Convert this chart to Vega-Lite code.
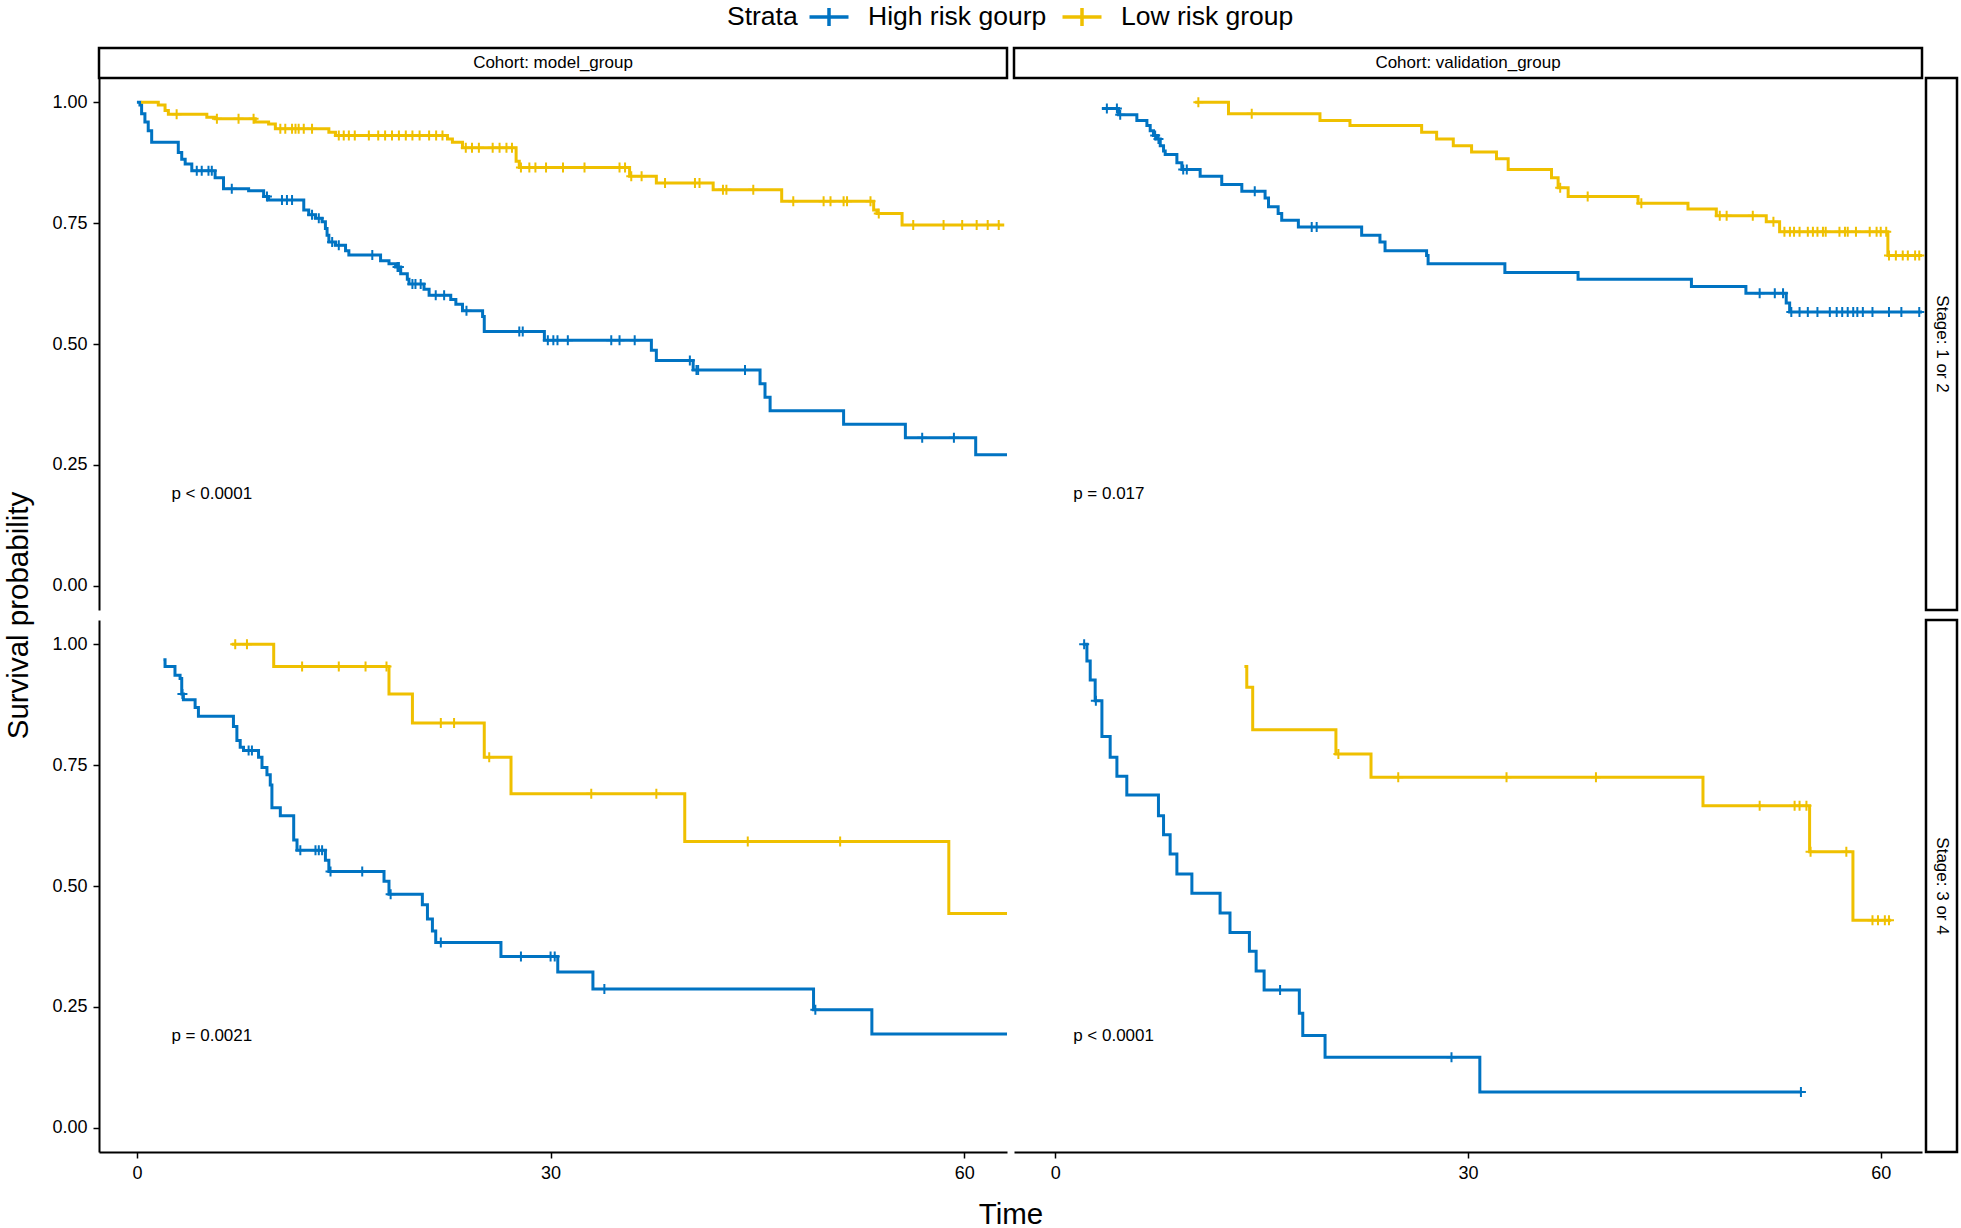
{
"$schema": "https://vega.github.io/schema/vega-lite/v6.json",
"background": "white",
"padding": {"left": 3, "top": 0, "right": 5, "bottom": 5},
"config": {
  "font": "Liberation Sans",
  "view": {"stroke": null},
  "axis": {"domainColor": "black", "domainWidth": 2, "tickColor": "black", "tickWidth": 1.5, "tickSize": 6, "labelColor": "black", "labelFontSize": 18, "labelPadding": 6, "titleColor": "black", "titleFontSize": 29.5, "titleFontWeight": "normal", "grid": false}
},
"datasets": {
  "tl_s": [
    {"strata":"High risk gourp","time":0,"surv":1},{"strata":"High risk gourp","time":0.22,"surv":0.994},{"strata":"High risk gourp","time":0.34,"surv":0.976},{"strata":"High risk gourp","time":0.58,"surv":0.959},{"strata":"High risk gourp","time":0.82,"surv":0.941},{"strata":"High risk gourp","time":1.07,"surv":0.917},{"strata":"High risk gourp","time":3.0,"surv":0.896},{"strata":"High risk gourp","time":3.25,"surv":0.882},{"strata":"High risk gourp","time":3.5,"surv":0.872},{"strata":"High risk gourp","time":3.98,"surv":0.858},{"strata":"High risk gourp","time":5.67,"surv":0.844},{"strata":"High risk gourp","time":6.28,"surv":0.821},{"strata":"High risk gourp","time":8.1,"surv":0.817},{"strata":"High risk gourp","time":9.19,"surv":0.805},{"strata":"High risk gourp","time":9.55,"surv":0.798},{"strata":"High risk gourp","time":12.1,"surv":0.777},{"strata":"High risk gourp","time":12.46,"surv":0.767},{"strata":"High risk gourp","time":12.95,"surv":0.76},{"strata":"High risk gourp","time":13.43,"surv":0.753},{"strata":"High risk gourp","time":13.67,"surv":0.739},{"strata":"High risk gourp","time":13.79,"surv":0.725},{"strata":"High risk gourp","time":13.92,"surv":0.711},{"strata":"High risk gourp","time":14.4,"surv":0.704},{"strata":"High risk gourp","time":15.13,"surv":0.693},{"strata":"High risk gourp","time":15.37,"surv":0.684},{"strata":"High risk gourp","time":17.67,"surv":0.672},{"strata":"High risk gourp","time":18.28,"surv":0.666},{"strata":"High risk gourp","time":18.76,"surv":0.659},{"strata":"High risk gourp","time":19.13,"surv":0.645},{"strata":"High risk gourp","time":19.61,"surv":0.634},{"strata":"High risk gourp","time":19.73,"surv":0.624},{"strata":"High risk gourp","time":20.82,"surv":0.613},{"strata":"High risk gourp","time":21.19,"surv":0.601},{"strata":"High risk gourp","time":22.76,"surv":0.592},{"strata":"High risk gourp","time":23.13,"surv":0.582},{"strata":"High risk gourp","time":23.61,"surv":0.569},{"strata":"High risk gourp","time":25.07,"surv":0.557},{"strata":"High risk gourp","time":25.19,"surv":0.526},{"strata":"High risk gourp","time":29.55,"surv":0.508},{"strata":"High risk gourp","time":37.31,"surv":0.487},{"strata":"High risk gourp","time":37.67,"surv":0.466},{"strata":"High risk gourp","time":40.34,"surv":0.446},{"strata":"High risk gourp","time":45.19,"surv":0.418},{"strata":"High risk gourp","time":45.55,"surv":0.39},{"strata":"High risk gourp","time":45.92,"surv":0.362},{"strata":"High risk gourp","time":51.25,"surv":0.334},{"strata":"High risk gourp","time":55.73,"surv":0.306},{"strata":"High risk gourp","time":60.83,"surv":0.271},{"strata":"High risk gourp","time":63.1,"surv":0.271},
    {"strata":"Low risk group","time":0.3,"surv":1},{"strata":"Low risk group","time":1.55,"surv":0.994},{"strata":"Low risk group","time":2.04,"surv":0.983},{"strata":"Low risk group","time":2.28,"surv":0.975},{"strata":"Low risk group","time":5.07,"surv":0.969},{"strata":"Low risk group","time":5.67,"surv":0.966},{"strata":"Low risk group","time":8.58,"surv":0.959},{"strata":"Low risk group","time":9.55,"surv":0.955},{"strata":"Low risk group","time":10.04,"surv":0.945},{"strata":"Low risk group","time":13.92,"surv":0.938},{"strata":"Low risk group","time":14.4,"surv":0.931},{"strata":"Low risk group","time":22.52,"surv":0.924},{"strata":"Low risk group","time":22.88,"surv":0.917},{"strata":"Low risk group","time":23.61,"surv":0.906},{"strata":"Low risk group","time":27.5,"surv":0.878},{"strata":"Low risk group","time":27.73,"surv":0.865},{"strata":"Low risk group","time":35.73,"surv":0.847},{"strata":"Low risk group","time":37.67,"surv":0.833},{"strata":"Low risk group","time":41.79,"surv":0.819},{"strata":"Low risk group","time":46.76,"surv":0.795},{"strata":"Low risk group","time":53.43,"surv":0.777},{"strata":"Low risk group","time":53.67,"surv":0.77},{"strata":"Low risk group","time":55.49,"surv":0.746},{"strata":"Low risk group","time":62.9,"surv":0.746}
  ],
  "tl_c": [
    {"strata":"High risk gourp","time":4.34,"surv":0.858},{"strata":"High risk gourp","time":4.7,"surv":0.858},{"strata":"High risk gourp","time":5.19,"surv":0.858},{"strata":"High risk gourp","time":5.43,"surv":0.858},{"strata":"High risk gourp","time":6.88,"surv":0.821},{"strata":"High risk gourp","time":9.43,"surv":0.805},{"strata":"High risk gourp","time":10.52,"surv":0.798},{"strata":"High risk gourp","time":10.88,"surv":0.798},{"strata":"High risk gourp","time":11.25,"surv":0.798},{"strata":"High risk gourp","time":12.7,"surv":0.767},{"strata":"High risk gourp","time":13.19,"surv":0.76},{"strata":"High risk gourp","time":14.16,"surv":0.711},{"strata":"High risk gourp","time":14.64,"surv":0.704},{"strata":"High risk gourp","time":17.07,"surv":0.684},{"strata":"High risk gourp","time":18.9,"surv":0.659},{"strata":"High risk gourp","time":19.0,"surv":0.659},{"strata":"High risk gourp","time":19.98,"surv":0.624},{"strata":"High risk gourp","time":20.2,"surv":0.624},{"strata":"High risk gourp","time":20.58,"surv":0.624},{"strata":"High risk gourp","time":21.67,"surv":0.601},{"strata":"High risk gourp","time":22.28,"surv":0.601},{"strata":"High risk gourp","time":23.9,"surv":0.569},{"strata":"High risk gourp","time":27.73,"surv":0.526},{"strata":"High risk gourp","time":27.98,"surv":0.526},{"strata":"High risk gourp","time":29.8,"surv":0.508},{"strata":"High risk gourp","time":30.2,"surv":0.508},{"strata":"High risk gourp","time":30.5,"surv":0.508},{"strata":"High risk gourp","time":31.25,"surv":0.508},{"strata":"High risk gourp","time":34.4,"surv":0.508},{"strata":"High risk gourp","time":35.0,"surv":0.508},{"strata":"High risk gourp","time":36.1,"surv":0.508},{"strata":"High risk gourp","time":40.1,"surv":0.466},{"strata":"High risk gourp","time":40.58,"surv":0.446},{"strata":"High risk gourp","time":40.7,"surv":0.446},{"strata":"High risk gourp","time":44.1,"surv":0.446},{"strata":"High risk gourp","time":56.95,"surv":0.306},{"strata":"High risk gourp","time":59.25,"surv":0.306},
    {"strata":"Low risk group","time":2.88,"surv":0.975},{"strata":"Low risk group","time":5.8,"surv":0.966},{"strata":"Low risk group","time":7.37,"surv":0.966},{"strata":"Low risk group","time":8.46,"surv":0.966},{"strata":"Low risk group","time":10.4,"surv":0.945},{"strata":"Low risk group","time":10.76,"surv":0.945},{"strata":"Low risk group","time":11.25,"surv":0.945},{"strata":"Low risk group","time":11.5,"surv":0.945},{"strata":"Low risk group","time":11.73,"surv":0.945},{"strata":"Low risk group","time":12.1,"surv":0.945},{"strata":"Low risk group","time":12.7,"surv":0.945},{"strata":"Low risk group","time":14.64,"surv":0.931},{"strata":"Low risk group","time":15.0,"surv":0.931},{"strata":"Low risk group","time":15.37,"surv":0.931},{"strata":"Low risk group","time":15.8,"surv":0.931},{"strata":"Low risk group","time":16.82,"surv":0.931},{"strata":"Low risk group","time":17.5,"surv":0.931},{"strata":"Low risk group","time":18.0,"surv":0.931},{"strata":"Low risk group","time":18.5,"surv":0.931},{"strata":"Low risk group","time":19.0,"surv":0.931},{"strata":"Low risk group","time":19.5,"surv":0.931},{"strata":"Low risk group","time":19.98,"surv":0.931},{"strata":"Low risk group","time":20.5,"surv":0.931},{"strata":"Low risk group","time":21.19,"surv":0.931},{"strata":"Low risk group","time":21.7,"surv":0.931},{"strata":"Low risk group","time":22.16,"surv":0.931},{"strata":"Low risk group","time":23.85,"surv":0.906},{"strata":"Low risk group","time":24.3,"surv":0.906},{"strata":"Low risk group","time":24.8,"surv":0.906},{"strata":"Low risk group","time":25.8,"surv":0.906},{"strata":"Low risk group","time":26.3,"surv":0.906},{"strata":"Low risk group","time":26.8,"surv":0.906},{"strata":"Low risk group","time":27.2,"surv":0.906},{"strata":"Low risk group","time":27.85,"surv":0.865},{"strata":"Low risk group","time":28.46,"surv":0.865},{"strata":"Low risk group","time":28.9,"surv":0.865},{"strata":"Low risk group","time":29.67,"surv":0.865},{"strata":"Low risk group","time":30.9,"surv":0.865},{"strata":"Low risk group","time":32.46,"surv":0.865},{"strata":"Low risk group","time":35.0,"surv":0.865},{"strata":"Low risk group","time":35.4,"surv":0.865},{"strata":"Low risk group","time":35.85,"surv":0.847},{"strata":"Low risk group","time":36.6,"surv":0.847},{"strata":"Low risk group","time":38.3,"surv":0.833},{"strata":"Low risk group","time":40.47,"surv":0.833},{"strata":"Low risk group","time":40.8,"surv":0.833},{"strata":"Low risk group","time":42.5,"surv":0.819},{"strata":"Low risk group","time":42.75,"surv":0.819},{"strata":"Low risk group","time":44.7,"surv":0.819},{"strata":"Low risk group","time":47.6,"surv":0.795},{"strata":"Low risk group","time":49.8,"surv":0.795},{"strata":"Low risk group","time":50.3,"surv":0.795},{"strata":"Low risk group","time":51.25,"surv":0.795},{"strata":"Low risk group","time":51.5,"surv":0.795},{"strata":"Low risk group","time":53.2,"surv":0.795},{"strata":"Low risk group","time":53.8,"surv":0.77},{"strata":"Low risk group","time":56.3,"surv":0.746},{"strata":"Low risk group","time":58.5,"surv":0.746},{"strata":"Low risk group","time":59.85,"surv":0.746},{"strata":"Low risk group","time":60.9,"surv":0.746},{"strata":"Low risk group","time":61.7,"surv":0.746},{"strata":"Low risk group","time":62.5,"surv":0.746}
  ],
  "tr_s": [
    {"strata":"High risk gourp","time":3.39,"surv":0.987},{"strata":"High risk gourp","time":4.6,"surv":0.974},{"strata":"High risk gourp","time":5.93,"surv":0.962},{"strata":"High risk gourp","time":6.66,"surv":0.952},{"strata":"High risk gourp","time":6.9,"surv":0.941},{"strata":"High risk gourp","time":7.14,"surv":0.931},{"strata":"High risk gourp","time":7.38,"surv":0.924},{"strata":"High risk gourp","time":7.63,"surv":0.91},{"strata":"High risk gourp","time":7.87,"surv":0.899},{"strata":"High risk gourp","time":7.99,"surv":0.892},{"strata":"High risk gourp","time":8.84,"surv":0.875},{"strata":"High risk gourp","time":9.2,"surv":0.861},{"strata":"High risk gourp","time":10.53,"surv":0.847},{"strata":"High risk gourp","time":12.1,"surv":0.83},{"strata":"High risk gourp","time":13.56,"surv":0.816},{"strata":"High risk gourp","time":15.25,"surv":0.802},{"strata":"High risk gourp","time":15.5,"surv":0.784},{"strata":"High risk gourp","time":16.2,"surv":0.77},{"strata":"High risk gourp","time":16.46,"surv":0.756},{"strata":"High risk gourp","time":17.67,"surv":0.742},{"strata":"High risk gourp","time":22.27,"surv":0.725},{"strata":"High risk gourp","time":23.6,"surv":0.711},{"strata":"High risk gourp","time":23.97,"surv":0.693},{"strata":"High risk gourp","time":26.99,"surv":0.683},{"strata":"High risk gourp","time":27.1,"surv":0.666},{"strata":"High risk gourp","time":32.68,"surv":0.648},{"strata":"High risk gourp","time":38.0,"surv":0.634},{"strata":"High risk gourp","time":46.24,"surv":0.619},{"strata":"High risk gourp","time":50.2,"surv":0.605},{"strata":"High risk gourp","time":53.13,"surv":0.585},{"strata":"High risk gourp","time":53.38,"surv":0.566},{"strata":"High risk gourp","time":63,"surv":0.566},
    {"strata":"Low risk group","time":10.17,"surv":1},{"strata":"Low risk group","time":12.59,"surv":0.976},{"strata":"Low risk group","time":19.24,"surv":0.962},{"strata":"Low risk group","time":21.42,"surv":0.952},{"strata":"Low risk group","time":26.63,"surv":0.938},{"strata":"Low risk group","time":27.72,"surv":0.924},{"strata":"Low risk group","time":28.93,"surv":0.91},{"strata":"Low risk group","time":30.26,"surv":0.897},{"strata":"Low risk group","time":32.07,"surv":0.883},{"strata":"Low risk group","time":32.92,"surv":0.861},{"strata":"Low risk group","time":36.07,"surv":0.844},{"strata":"Low risk group","time":36.55,"surv":0.823},{"strata":"Low risk group","time":37.28,"surv":0.805},{"strata":"Low risk group","time":42.36,"surv":0.791},{"strata":"Low risk group","time":45.99,"surv":0.779},{"strata":"Low risk group","time":48.05,"surv":0.765},{"strata":"Low risk group","time":51.68,"surv":0.753},{"strata":"Low risk group","time":52.65,"surv":0.732},{"strata":"Low risk group","time":60.52,"surv":0.683},{"strata":"Low risk group","time":63,"surv":0.683}
  ],
  "tr_c": [
    {"strata":"High risk gourp","time":3.75,"surv":0.987},{"strata":"High risk gourp","time":4.48,"surv":0.987},{"strata":"High risk gourp","time":4.72,"surv":0.974},{"strata":"High risk gourp","time":7.26,"surv":0.931},{"strata":"High risk gourp","time":7.5,"surv":0.924},{"strata":"High risk gourp","time":9.3,"surv":0.861},{"strata":"High risk gourp","time":9.56,"surv":0.861},{"strata":"High risk gourp","time":14.5,"surv":0.816},{"strata":"High risk gourp","time":18.64,"surv":0.742},{"strata":"High risk gourp","time":19.0,"surv":0.742},{"strata":"High risk gourp","time":51.2,"surv":0.605},{"strata":"High risk gourp","time":52.3,"surv":0.605},{"strata":"High risk gourp","time":52.9,"surv":0.605},{"strata":"High risk gourp","time":53.5,"surv":0.566},{"strata":"High risk gourp","time":54.1,"surv":0.566},{"strata":"High risk gourp","time":54.7,"surv":0.566},{"strata":"High risk gourp","time":55.4,"surv":0.566},{"strata":"High risk gourp","time":56.3,"surv":0.566},{"strata":"High risk gourp","time":56.8,"surv":0.566},{"strata":"High risk gourp","time":57.2,"surv":0.566},{"strata":"High risk gourp","time":57.6,"surv":0.566},{"strata":"High risk gourp","time":58.0,"surv":0.566},{"strata":"High risk gourp","time":58.3,"surv":0.566},{"strata":"High risk gourp","time":58.7,"surv":0.566},{"strata":"High risk gourp","time":59.4,"surv":0.566},{"strata":"High risk gourp","time":60.6,"surv":0.566},{"strata":"High risk gourp","time":61.5,"surv":0.566},{"strata":"High risk gourp","time":62.8,"surv":0.566},
    {"strata":"Low risk group","time":10.4,"surv":1},{"strata":"Low risk group","time":14.28,"surv":0.976},{"strata":"Low risk group","time":36.7,"surv":0.823},{"strata":"Low risk group","time":38.7,"surv":0.805},{"strata":"Low risk group","time":42.6,"surv":0.791},{"strata":"Low risk group","time":48.3,"surv":0.765},{"strata":"Low risk group","time":48.8,"surv":0.765},{"strata":"Low risk group","time":50.7,"surv":0.765},{"strata":"Low risk group","time":52.2,"surv":0.753},{"strata":"Low risk group","time":53.0,"surv":0.732},{"strata":"Low risk group","time":53.4,"surv":0.732},{"strata":"Low risk group","time":53.7,"surv":0.732},{"strata":"Low risk group","time":54.1,"surv":0.732},{"strata":"Low risk group","time":54.7,"surv":0.732},{"strata":"Low risk group","time":55.07,"surv":0.732},{"strata":"Low risk group","time":55.4,"surv":0.732},{"strata":"Low risk group","time":55.8,"surv":0.732},{"strata":"Low risk group","time":56.0,"surv":0.732},{"strata":"Low risk group","time":57.0,"surv":0.732},{"strata":"Low risk group","time":57.4,"surv":0.732},{"strata":"Low risk group","time":57.6,"surv":0.732},{"strata":"Low risk group","time":58.2,"surv":0.732},{"strata":"Low risk group","time":59.2,"surv":0.732},{"strata":"Low risk group","time":59.7,"surv":0.732},{"strata":"Low risk group","time":60.0,"surv":0.732},{"strata":"Low risk group","time":60.4,"surv":0.732},{"strata":"Low risk group","time":60.6,"surv":0.683},{"strata":"Low risk group","time":61.1,"surv":0.683},{"strata":"Low risk group","time":61.6,"surv":0.683},{"strata":"Low risk group","time":61.97,"surv":0.683},{"strata":"Low risk group","time":62.5,"surv":0.683},{"strata":"Low risk group","time":62.8,"surv":0.683}
  ],
  "bl_s": [
    {"strata":"High risk gourp","time":1.92,"surv":0.968},{"strata":"High risk gourp","time":2.04,"surv":0.954},{"strata":"High risk gourp","time":2.76,"surv":0.936},{"strata":"High risk gourp","time":3.13,"surv":0.929},{"strata":"High risk gourp","time":3.25,"surv":0.897},{"strata":"High risk gourp","time":3.37,"surv":0.885},{"strata":"High risk gourp","time":4.22,"surv":0.869},{"strata":"High risk gourp","time":4.46,"surv":0.851},{"strata":"High risk gourp","time":7.0,"surv":0.83},{"strata":"High risk gourp","time":7.25,"surv":0.801},{"strata":"High risk gourp","time":7.49,"surv":0.787},{"strata":"High risk gourp","time":7.73,"surv":0.78},{"strata":"High risk gourp","time":8.82,"surv":0.766},{"strata":"High risk gourp","time":9.07,"surv":0.745},{"strata":"High risk gourp","time":9.43,"surv":0.73},{"strata":"High risk gourp","time":9.67,"surv":0.709},{"strata":"High risk gourp","time":9.79,"surv":0.662},{"strata":"High risk gourp","time":10.4,"surv":0.645},{"strata":"High risk gourp","time":11.37,"surv":0.595},{"strata":"High risk gourp","time":11.61,"surv":0.574},{"strata":"High risk gourp","time":13.67,"surv":0.553},{"strata":"High risk gourp","time":13.92,"surv":0.53},{"strata":"High risk gourp","time":17.92,"surv":0.51},{"strata":"High risk gourp","time":18.28,"surv":0.483},{"strata":"High risk gourp","time":20.7,"surv":0.461},{"strata":"High risk gourp","time":21.07,"surv":0.432},{"strata":"High risk gourp","time":21.43,"surv":0.407},{"strata":"High risk gourp","time":21.67,"surv":0.383},{"strata":"High risk gourp","time":26.4,"surv":0.354},{"strata":"High risk gourp","time":30.52,"surv":0.322},{"strata":"High risk gourp","time":33.07,"surv":0.287},{"strata":"High risk gourp","time":49.07,"surv":0.244},{"strata":"High risk gourp","time":53.3,"surv":0.194},{"strata":"High risk gourp","time":63.1,"surv":0.194},
    {"strata":"Low risk group","time":6.88,"surv":1},{"strata":"Low risk group","time":9.92,"surv":0.954},{"strata":"Low risk group","time":18.28,"surv":0.897},{"strata":"Low risk group","time":19.98,"surv":0.837},{"strata":"Low risk group","time":25.19,"surv":0.766},{"strata":"Low risk group","time":27.13,"surv":0.691},{"strata":"Low risk group","time":39.73,"surv":0.592},{"strata":"Low risk group","time":58.88,"surv":0.443},{"strata":"Low risk group","time":63.1,"surv":0.443}
  ],
  "bl_c": [
    {"strata":"High risk gourp","time":3.3,"surv":0.897},{"strata":"High risk gourp","time":8.1,"surv":0.78},{"strata":"High risk gourp","time":8.34,"surv":0.78},{"strata":"High risk gourp","time":11.85,"surv":0.574},{"strata":"High risk gourp","time":12.95,"surv":0.574},{"strata":"High risk gourp","time":13.19,"surv":0.574},{"strata":"High risk gourp","time":13.43,"surv":0.574},{"strata":"High risk gourp","time":14.04,"surv":0.53},{"strata":"High risk gourp","time":16.34,"surv":0.53},{"strata":"High risk gourp","time":18.4,"surv":0.483},{"strata":"High risk gourp","time":22.04,"surv":0.383},{"strata":"High risk gourp","time":27.85,"surv":0.354},{"strata":"High risk gourp","time":30.0,"surv":0.354},{"strata":"High risk gourp","time":30.3,"surv":0.354},{"strata":"High risk gourp","time":33.9,"surv":0.287},{"strata":"High risk gourp","time":49.2,"surv":0.244},
    {"strata":"Low risk group","time":7.13,"surv":1},{"strata":"Low risk group","time":7.98,"surv":1},{"strata":"Low risk group","time":11.98,"surv":0.954},{"strata":"Low risk group","time":14.64,"surv":0.954},{"strata":"Low risk group","time":16.58,"surv":0.954},{"strata":"Low risk group","time":18.1,"surv":0.954},{"strata":"Low risk group","time":22.04,"surv":0.837},{"strata":"Low risk group","time":23.0,"surv":0.837},{"strata":"Low risk group","time":25.55,"surv":0.766},{"strata":"Low risk group","time":32.95,"surv":0.691},{"strata":"Low risk group","time":37.67,"surv":0.691},{"strata":"Low risk group","time":44.3,"surv":0.592},{"strata":"Low risk group","time":51.0,"surv":0.592}
  ],
  "br_s": [
    {"strata":"High risk gourp","time":2.0,"surv":1},{"strata":"High risk gourp","time":2.3,"surv":0.965},{"strata":"High risk gourp","time":2.54,"surv":0.926},{"strata":"High risk gourp","time":2.9,"surv":0.883},{"strata":"High risk gourp","time":3.39,"surv":0.809},{"strata":"High risk gourp","time":3.99,"surv":0.766},{"strata":"High risk gourp","time":4.48,"surv":0.727},{"strata":"High risk gourp","time":5.2,"surv":0.688},{"strata":"High risk gourp","time":7.5,"surv":0.645},{"strata":"High risk gourp","time":7.87,"surv":0.606},{"strata":"High risk gourp","time":8.35,"surv":0.566},{"strata":"High risk gourp","time":8.84,"surv":0.525},{"strata":"High risk gourp","time":9.93,"surv":0.485},{"strata":"High risk gourp","time":11.98,"surv":0.444},{"strata":"High risk gourp","time":12.7,"surv":0.404},{"strata":"High risk gourp","time":14.11,"surv":0.365},{"strata":"High risk gourp","time":14.6,"surv":0.324},{"strata":"High risk gourp","time":15.18,"surv":0.285},{"strata":"High risk gourp","time":17.74,"surv":0.237},{"strata":"High risk gourp","time":17.99,"surv":0.191},{"strata":"High risk gourp","time":19.61,"surv":0.146},{"strata":"High risk gourp","time":30.86,"surv":0.074},{"strata":"High risk gourp","time":54.2,"surv":0.074},
    {"strata":"Low risk group","time":13.75,"surv":0.954},{"strata":"Low risk group","time":13.92,"surv":0.911},{"strata":"Low risk group","time":14.35,"surv":0.823},{"strata":"Low risk group","time":20.4,"surv":0.773},{"strata":"Low risk group","time":22.95,"surv":0.725},{"strata":"Low risk group","time":47.08,"surv":0.666},{"strata":"Low risk group","time":54.83,"surv":0.571},{"strata":"Low risk group","time":57.98,"surv":0.429},{"strata":"Low risk group","time":60.76,"surv":0.429}
  ],
  "br_c": [
    {"strata":"High risk gourp","time":2.1,"surv":1},{"strata":"High risk gourp","time":2.95,"surv":0.883},{"strata":"High risk gourp","time":16.34,"surv":0.285},{"strata":"High risk gourp","time":28.8,"surv":0.146},{"strata":"High risk gourp","time":54.2,"surv":0.074},
    {"strata":"Low risk group","time":20.58,"surv":0.773},{"strata":"Low risk group","time":24.93,"surv":0.725},{"strata":"Low risk group","time":32.8,"surv":0.725},{"strata":"Low risk group","time":39.3,"surv":0.725},{"strata":"Low risk group","time":51.2,"surv":0.666},{"strata":"Low risk group","time":53.74,"surv":0.666},{"strata":"Low risk group","time":54.1,"surv":0.666},{"strata":"Low risk group","time":54.6,"surv":0.666},{"strata":"Low risk group","time":54.9,"surv":0.571},{"strata":"Low risk group","time":57.5,"surv":0.571},{"strata":"Low risk group","time":59.4,"surv":0.429},{"strata":"Low risk group","time":59.8,"surv":0.429},{"strata":"Low risk group","time":60.3,"surv":0.429},{"strata":"Low risk group","time":60.6,"surv":0.429}
  ]
},
"columns": 5,
"spacing": 0,
"bounds": "flush",
"align": "each",
"concat": [
  {"width": 908, "height": 30, "view": {"stroke": "black", "strokeWidth": 2.5, "fill": "white"},
   "data": {"values": [{"label": "Cohort: model_group"}]},
   "mark": {"type": "text", "fontSize": 17, "color": "black", "align": "center", "baseline": "middle"},
   "encoding": {"text": {"field": "label"}, "x": {"datum": 0.5, "scale": {"domain": [0, 1]}, "axis": null}, "y": {"datum": 0.5, "scale": {"domain": [0, 1]}, "axis": null}}},
  {"width": 7, "height": 1, "data": {"values": [{}]}, "mark": "text", "encoding": {"text": {"value": ""}}},
  {"width": 908, "height": 30, "view": {"stroke": "black", "strokeWidth": 2.5, "fill": "white"},
   "data": {"values": [{"label": "Cohort: validation_group"}]},
   "mark": {"type": "text", "fontSize": 17, "color": "black", "align": "center", "baseline": "middle"},
   "encoding": {"text": {"field": "label"}, "x": {"datum": 0.5, "scale": {"domain": [0, 1]}, "axis": null}, "y": {"datum": 0.5, "scale": {"domain": [0, 1]}, "axis": null}}},
  {"width": 4, "height": 1, "data": {"values": [{}]}, "mark": "text", "encoding": {"text": {"value": ""}}},
  {"width": 1, "height": 1, "data": {"values": [{}]}, "mark": "text", "encoding": {"text": {"value": ""}}},

  {"width": 908, "height": 532,
   "encoding": {
     "x": {"field": "time", "type": "quantitative", "scale": {"domain": [-2.75, 63.1], "nice": false, "zero": false}, "axis": null},
     "y": {"field": "surv", "type": "quantitative", "scale": {"domain": [-0.05, 1.05], "nice": false, "zero": false}, "axis": {"values": [0, 0.25, 0.5, 0.75, 1], "format": ".2f", "title": "Survival probability", "titleX": -81, "titleY": 537, "titleAngle": 270, "titleAlign": "center", "titleBaseline": "middle"}},
     "color": {"field": "strata", "type": "nominal", "scale": {"domain": ["High risk gourp", "Low risk group"], "range": ["#0073C2", "#EFC000"]},
       "legend": {"title": "Strata", "orient": "none", "legendX": 628, "legendY": -48, "direction": "horizontal", "titleOrient": "left", "titleAnchor": "middle", "titleBaseline": "middle", "titleFontSize": 26.5, "titleFontWeight": "normal", "titleColor": "black", "titlePadding": 14, "labelFontSize": 26.5, "labelColor": "black", "labelLimit": 500, "labelOffset": 22, "columnPadding": 8, "symbolType": "M-1.3,0H1.3M0,-0.6V0.6", "symbolSize": 900, "symbolStrokeWidth": 3.5, "padding": 0}}
   },
   "layer": [
     {"data": {"name": "tl_s"}, "mark": {"type": "line", "interpolate": "step-after", "strokeWidth": 3}},
     {"data": {"name": "tl_c"}, "mark": {"type": "point", "shape": "M-1,0H1M0,-1V1", "filled": false, "strokeWidth": 2, "size": 100, "opacity": 1}},
     {"data": {"values": [{"time": 2.5, "surv": 0.19, "label": "p < 0.0001"}]}, "mark": {"type": "text", "align": "left", "baseline": "middle", "fontSize": 17}, "encoding": {"text": {"field": "label"}, "color": {"value": "black"}}}
   ]},
  {"width": 1, "height": 1, "data": {"values": [{}]}, "mark": "text", "encoding": {"text": {"value": ""}}},
  {"width": 908, "height": 532,
   "encoding": {
     "x": {"field": "time", "type": "quantitative", "scale": {"domain": [-3, 63], "nice": false, "zero": false}, "axis": null},
     "y": {"field": "surv", "type": "quantitative", "scale": {"domain": [-0.05, 1.05], "nice": false, "zero": false}, "axis": null},
     "color": {"field": "strata", "type": "nominal", "scale": {"domain": ["High risk gourp", "Low risk group"], "range": ["#0073C2", "#EFC000"]},
       "legend": {"title": "Strata", "orient": "none", "legendX": 628, "legendY": -48, "direction": "horizontal", "titleOrient": "left", "titleAnchor": "middle", "titleBaseline": "middle", "titleFontSize": 26.5, "titleFontWeight": "normal", "titleColor": "black", "titlePadding": 14, "labelFontSize": 26.5, "labelColor": "black", "labelLimit": 500, "labelOffset": 22, "columnPadding": 8, "symbolType": "M-1.3,0H1.3M0,-0.6V0.6", "symbolSize": 900, "symbolStrokeWidth": 3.5, "padding": 0}}
   },
   "layer": [
     {"data": {"name": "tr_s"}, "mark": {"type": "line", "interpolate": "step-after", "strokeWidth": 3}},
     {"data": {"name": "tr_c"}, "mark": {"type": "point", "shape": "M-1,0H1M0,-1V1", "filled": false, "strokeWidth": 2, "size": 100, "opacity": 1}},
     {"data": {"values": [{"time": 1.3, "surv": 0.19, "label": "p = 0.017"}]}, "mark": {"type": "text", "align": "left", "baseline": "middle", "fontSize": 17}, "encoding": {"text": {"field": "label"}, "color": {"value": "black"}}}
   ]},
  {"width": 1, "height": 1, "data": {"values": [{}]}, "mark": "text", "encoding": {"text": {"value": ""}}},
  {"width": 31, "height": 532, "view": {"stroke": "black", "strokeWidth": 2.5, "fill": "white"},
   "data": {"values": [{"label": "Stage: 1 or 2"}]},
   "mark": {"type": "text", "fontSize": 17, "color": "black", "align": "center", "baseline": "middle", "angle": 90},
   "encoding": {"text": {"field": "label"}, "x": {"datum": 0.5, "scale": {"domain": [0, 1]}, "axis": null}, "y": {"datum": 0.5, "scale": {"domain": [0, 1]}, "axis": null}}},

  {"width": 1, "height": 10, "data": {"values": [{}]}, "mark": "text", "encoding": {"text": {"value": ""}}},
  {"width": 1, "height": 10, "data": {"values": [{}]}, "mark": "text", "encoding": {"text": {"value": ""}}},
  {"width": 1, "height": 10, "data": {"values": [{}]}, "mark": "text", "encoding": {"text": {"value": ""}}},
  {"width": 1, "height": 10, "data": {"values": [{}]}, "mark": "text", "encoding": {"text": {"value": ""}}},
  {"width": 1, "height": 10, "data": {"values": [{}]}, "mark": "text", "encoding": {"text": {"value": ""}}},

  {"width": 908, "height": 532,
   "encoding": {
     "x": {"field": "time", "type": "quantitative", "scale": {"domain": [-2.75, 63.1], "nice": false, "zero": false}, "axis": {"values": [0, 30, 60], "format": "d", "title": "Time", "titleX": 911.5, "titleY": 62, "titleAlign": "center", "titleBaseline": "middle"}},
     "y": {"field": "surv", "type": "quantitative", "scale": {"domain": [-0.05, 1.05], "nice": false, "zero": false}, "axis": {"values": [0, 0.25, 0.5, 0.75, 1], "format": ".2f", "title": null}},
     "color": {"field": "strata", "type": "nominal", "scale": {"domain": ["High risk gourp", "Low risk group"], "range": ["#0073C2", "#EFC000"]},
       "legend": {"title": "Strata", "orient": "none", "legendX": 628, "legendY": -48, "direction": "horizontal", "titleOrient": "left", "titleAnchor": "middle", "titleBaseline": "middle", "titleFontSize": 26.5, "titleFontWeight": "normal", "titleColor": "black", "titlePadding": 14, "labelFontSize": 26.5, "labelColor": "black", "labelLimit": 500, "labelOffset": 22, "columnPadding": 8, "symbolType": "M-1.3,0H1.3M0,-0.6V0.6", "symbolSize": 900, "symbolStrokeWidth": 3.5, "padding": 0}}
   },
   "layer": [
     {"data": {"name": "bl_s"}, "mark": {"type": "line", "interpolate": "step-after", "strokeWidth": 3}},
     {"data": {"name": "bl_c"}, "mark": {"type": "point", "shape": "M-1,0H1M0,-1V1", "filled": false, "strokeWidth": 2, "size": 100, "opacity": 1}},
     {"data": {"values": [{"time": 2.5, "surv": 0.19, "label": "p = 0.0021"}]}, "mark": {"type": "text", "align": "left", "baseline": "middle", "fontSize": 17}, "encoding": {"text": {"field": "label"}, "color": {"value": "black"}}}
   ]},
  {"width": 1, "height": 1, "data": {"values": [{}]}, "mark": "text", "encoding": {"text": {"value": ""}}},
  {"width": 908, "height": 532,
   "encoding": {
     "x": {"field": "time", "type": "quantitative", "scale": {"domain": [-3, 63], "nice": false, "zero": false}, "axis": {"values": [0, 30, 60], "format": "d", "title": null}},
     "y": {"field": "surv", "type": "quantitative", "scale": {"domain": [-0.05, 1.05], "nice": false, "zero": false}, "axis": null},
     "color": {"field": "strata", "type": "nominal", "scale": {"domain": ["High risk gourp", "Low risk group"], "range": ["#0073C2", "#EFC000"]},
       "legend": {"title": "Strata", "orient": "none", "legendX": 628, "legendY": -48, "direction": "horizontal", "titleOrient": "left", "titleAnchor": "middle", "titleBaseline": "middle", "titleFontSize": 26.5, "titleFontWeight": "normal", "titleColor": "black", "titlePadding": 14, "labelFontSize": 26.5, "labelColor": "black", "labelLimit": 500, "labelOffset": 22, "columnPadding": 8, "symbolType": "M-1.3,0H1.3M0,-0.6V0.6", "symbolSize": 900, "symbolStrokeWidth": 3.5, "padding": 0}}
   },
   "layer": [
     {"data": {"name": "br_s"}, "mark": {"type": "line", "interpolate": "step-after", "strokeWidth": 3}},
     {"data": {"name": "br_c"}, "mark": {"type": "point", "shape": "M-1,0H1M0,-1V1", "filled": false, "strokeWidth": 2, "size": 100, "opacity": 1}},
     {"data": {"values": [{"time": 1.3, "surv": 0.19, "label": "p < 0.0001"}]}, "mark": {"type": "text", "align": "left", "baseline": "middle", "fontSize": 17}, "encoding": {"text": {"field": "label"}, "color": {"value": "black"}}}
   ]},
  {"width": 1, "height": 1, "data": {"values": [{}]}, "mark": "text", "encoding": {"text": {"value": ""}}},
  {"width": 31, "height": 532, "view": {"stroke": "black", "strokeWidth": 2.5, "fill": "white"},
   "data": {"values": [{"label": "Stage: 3 or 4"}]},
   "mark": {"type": "text", "fontSize": 17, "color": "black", "align": "center", "baseline": "middle", "angle": 90},
   "encoding": {"text": {"field": "label"}, "x": {"datum": 0.5, "scale": {"domain": [0, 1]}, "axis": null}, "y": {"datum": 0.5, "scale": {"domain": [0, 1]}, "axis": null}}}
]
}
